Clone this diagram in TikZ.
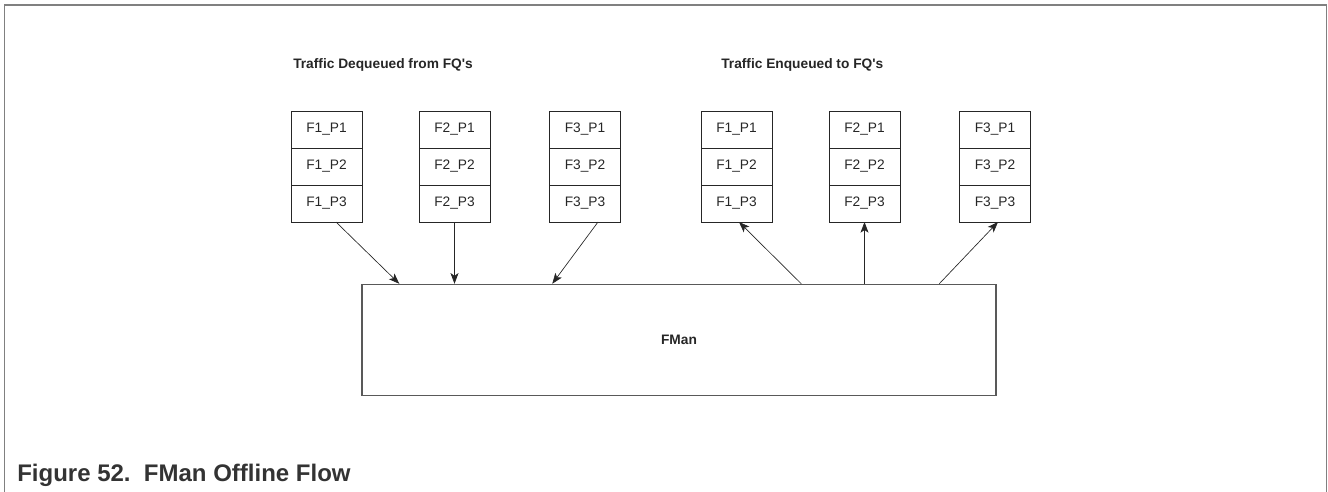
\documentclass[tikz,border=0pt]{standalone}
\usepackage{fontspec}
\setmainfont{Liberation Sans}
\usetikzlibrary{arrows.meta, positioning, calc}

\begin{document}
\begin{tikzpicture}[
    x=0.75pt, y=-0.75pt,
    font=\fontsize{10.3}{12}\selectfont,
    cell/.style={draw=black!85, line width=0.6pt, minimum width=53.25pt, minimum height=27.75pt, inner sep=0pt, outer sep=0pt, text=black!85},
    head/.style={font=\fontsize{10.3}{12}\selectfont\bfseries, text=black!85, anchor=west, inner sep=0pt},
    flow/.style={-{Stealth[length=8pt, width=6pt, inset=2pt]}, line width=0.5pt, black!85},
]
\useasboundingbox (0,0) rectangle (1328,492);
\draw[black!50, line width=1.1pt] (4.5,492) -- (4.5,5) -- (1326.5,5) -- (1326.5,492);

\node[head] (dqtitle) at (293,65) {Traffic Dequeued from FQ\textquotesingle s};
\node[head] (eqtitle) at (721,65) {Traffic Enqueued to FQ\textquotesingle s};

% dequeued queues
\foreach \f/\x in {1/326.5, 2/454.5, 3/585} {
  \node[cell] (dq\f1) at (\x,129.5) {F\f\_P1};
  \node[cell, below=0pt of dq\f1] (dq\f2) {F\f\_P2};
  \node[cell, below=0pt of dq\f2] (dq\f3) {F\f\_P3};
}
% enqueued queues
\foreach \f/\x in {1/736.5, 2/864.5, 3/995} {
  \node[cell] (eq\f1) at (\x,129.5) {F\f\_P1};
  \node[cell, below=0pt of eq\f1] (eq\f2) {F\f\_P2};
  \node[cell, below=0pt of eq\f2] (eq\f3) {F\f\_P3};
}

\node[draw=black!65, line width=1.1pt, minimum width=475.5pt, minimum height=83.25pt, font=\fontsize{10.3}{12}\selectfont\bfseries, text=black!85] (fman) at (679,340) {FMan};

\draw[flow] ($(dq13.south)+(9.5,0)$) -- ($(fman.north west)+(38,0)$);
\draw[flow] (dq23.south) -- (dq23.south |- fman.north);
\draw[flow] ($(dq33.south)+(13,0)$) -- ($(fman.north west)+(191,0)$);
\draw[flow] ($(fman.north west)+(440,0)$) -- ($(eq13.south)+(2.5,0)$);
\draw[flow] (eq23.south |- fman.north) -- (eq23.south);
\draw[flow] ($(fman.north west)+(578,0)$) -- ($(eq33.south)+(3,0)$);

\node[anchor=west, font=\fontsize{18}{20}\selectfont\bfseries, text=black!80, inner sep=0pt] (caption) at (17,475) {Figure 52.\ \ FMan Offline Flow};
\end{tikzpicture}
\end{document}
